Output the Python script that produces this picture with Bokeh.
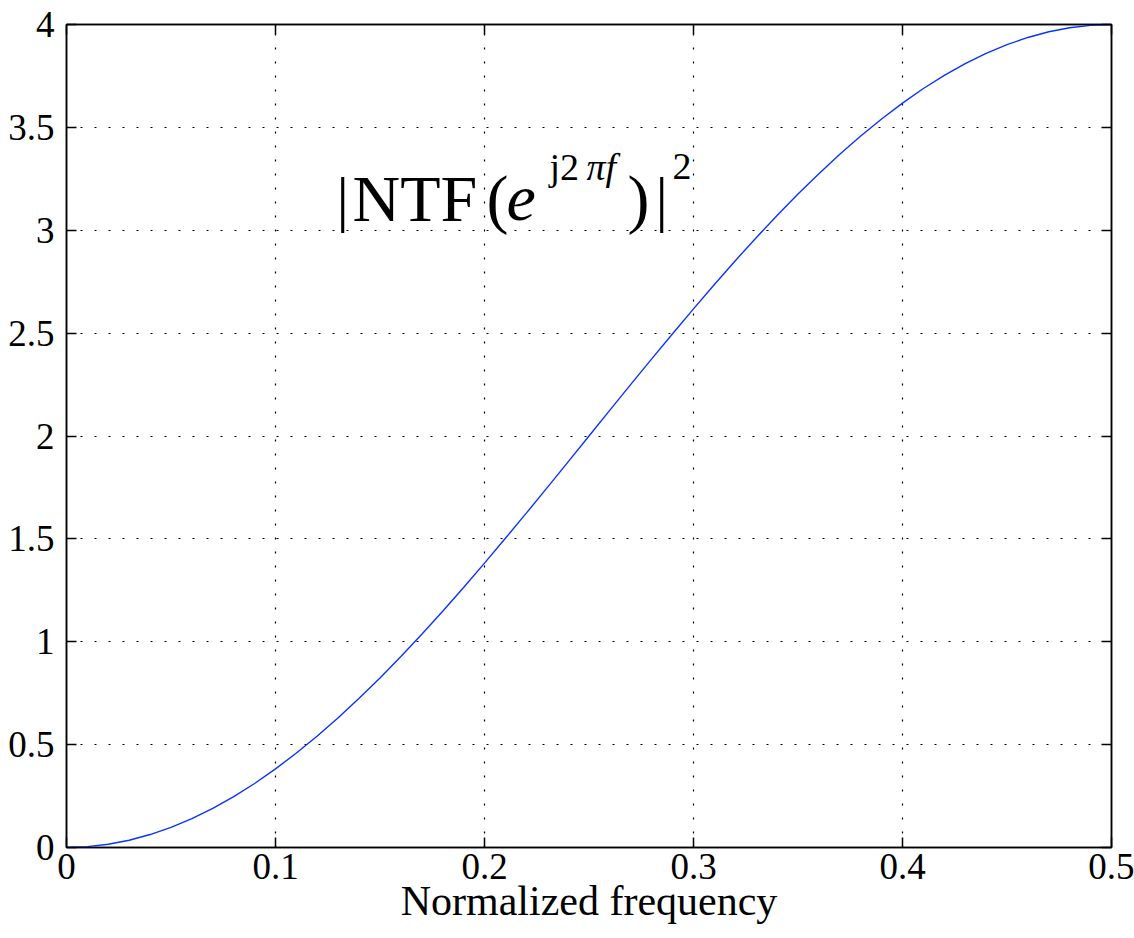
from bokeh.plotting import figure
from bokeh.models import Range1d, LinearAxis, Label, FixedTicker, NumeralTickFormatter, CustomJSTickFormatter
from bokeh.embed import file_html
from bokeh.resources import INLINE

# Data
freq = [0.00, 0.01, 0.02, 0.03, 0.04, 0.05, 0.06, 0.07, 0.08, 0.09,
        0.10, 0.11, 0.12, 0.13, 0.14, 0.15, 0.16, 0.17, 0.18, 0.19,
        0.20, 0.21, 0.22, 0.23, 0.24, 0.25, 0.26, 0.27, 0.28, 0.29,
        0.30, 0.31, 0.32, 0.33, 0.34, 0.35, 0.36, 0.37, 0.38, 0.39,
        0.40, 0.41, 0.42, 0.43, 0.44, 0.45, 0.46, 0.47, 0.48, 0.49, 0.50]
ntf_sq = [0.000, 0.004, 0.016, 0.035, 0.063, 0.098, 0.140, 0.190, 0.247, 0.311,
          0.382, 0.459, 0.542, 0.631, 0.725, 0.824, 0.928, 1.036, 1.148, 1.264,
          1.382, 1.503, 1.625, 1.749, 1.874, 2.000, 2.126, 2.251, 2.375, 2.497,
          2.618, 2.736, 2.852, 2.964, 3.072, 3.176, 3.275, 3.369, 3.458, 3.541,
          3.618, 3.689, 3.753, 3.810, 3.860, 3.902, 3.937, 3.965, 3.984, 3.996, 4.000]
x_ticks = [0, 0.1, 0.2, 0.3, 0.4, 0.5]
y_ticks = [0, 0.5, 1, 1.5, 2, 2.5, 3, 3.5, 4]
x_label = "Normalized frequency"

FONT = "Liberation Serif"

p = figure(width=1134, height=938, x_range=Range1d(0, 0.5), y_range=Range1d(0, 4),
           output_backend="svg", toolbar_location=None,
           min_border_left=66, min_border_right=23, min_border_top=24, min_border_bottom=91)
p.background_fill_color = "white"
p.border_fill_color = "white"
p.outline_line_color = "black"
p.outline_line_width = 1.5

for ax, ticks in ((p.xaxis[0], x_ticks), (p.yaxis[0], y_ticks)):
    ax.ticker = FixedTicker(ticks=ticks)
    ax.formatter = NumeralTickFormatter(format="0.[0]")
    ax.major_tick_in = 10
    ax.major_tick_out = 0
    ax.minor_tick_line_color = None
    ax.axis_line_color = "black"
    ax.axis_line_width = 1.5
    ax.major_tick_line_color = "black"
    ax.major_tick_line_width = 1.5
    ax.major_label_text_font = FONT
    ax.major_label_text_font_size = "37px"
    ax.major_label_text_color = "black"

p.xaxis[0].major_label_standoff = 6
p.yaxis[0].major_label_standoff = 12
p.xaxis[0].axis_label = x_label
p.xaxis[0].axis_label_text_font = FONT
p.xaxis[0].axis_label_text_font_size = "42px"
p.xaxis[0].axis_label_text_font_style = "normal"
p.xaxis[0].axis_label_text_color = "black"
p.xaxis[0].axis_label_standoff = -4

empty = CustomJSTickFormatter(code="return ''")
top = LinearAxis(ticker=FixedTicker(ticks=x_ticks), formatter=empty,
                 major_tick_in=10, major_tick_out=0, minor_tick_line_color=None,
                 major_label_text_font_size="1px", major_label_standoff=0,
                 axis_line_width=1.5, major_tick_line_width=1.5)
right = LinearAxis(ticker=FixedTicker(ticks=y_ticks), formatter=empty,
                   major_tick_in=10, major_tick_out=0, minor_tick_line_color=None,
                   major_label_text_font_size="1px", major_label_standoff=0,
                   axis_line_width=1.5, major_tick_line_width=1.5)
p.add_layout(top, "above")
p.add_layout(right, "right")

p.xgrid.ticker = FixedTicker(ticks=x_ticks)
p.ygrid.ticker = FixedTicker(ticks=y_ticks)
for g in (p.xgrid, p.ygrid):
    g.grid_line_color = "black"
    g.grid_line_dash = "2 12"
    g.grid_line_width = 1.2

p.line(freq, ntf_sq, line_color="#0a32ff", line_width=1.4)

# Annotation |NTF(e^{j2πf})|^2 composed of pieces (positions in pixels converted to data)
X0, X1, Y0, Y1 = 66, 1111, 847, 24
def dx(px):
    return (px - X0) / (X1 - X0) * 0.5
def dy(py):
    return (Y0 - py) / (Y0 - Y1) * 4

pieces = [
    ("|", 336, 198, "62px", "normal"),
    ("NTF", 352, 198, "66px", "normal"),
    ("(", 486, 198, "66px", "normal"),
    ("e", 506, 198, "66px", "italic"),
    ("j2", 549, 166, "38px", "normal"),
    ("πf", 586, 166, "38px", "italic"),
    (")", 627, 198, "66px", "normal"),
    ("|", 655, 198, "62px", "normal"),
    ("2", 672, 166, "38px", "normal"),
]
for txt, px, py, size, style in pieces:
    p.add_layout(Label(x=dx(px), y=dy(py), text=txt, text_font=FONT, text_font_size=size,
                       text_font_style=style, text_color="black",
                       text_align="left", text_baseline="alphabetic"))

open("out.html", "w").write(file_html(p, INLINE))
